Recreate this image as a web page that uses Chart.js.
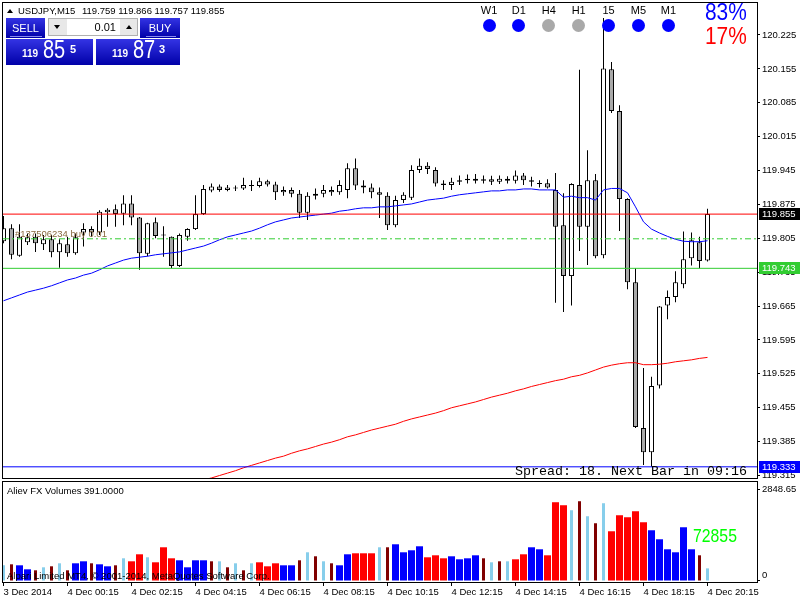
<!DOCTYPE html>
<html><head><meta charset="utf-8">
<script src="https://cdn.jsdelivr.net/npm/chart.js@4.4.0/dist/chart.umd.min.js"></script>
<style>
html,body{margin:0;padding:0;background:#fff;}
#wrap{position:relative;width:800px;height:600px;overflow:hidden;font-family:"Liberation Sans",Arial,sans-serif;}
canvas{position:absolute;left:0;}
#c1{top:0;}
#c2{top:480px;}
.ov{position:absolute;white-space:nowrap;line-height:1;}
.bluebox{position:absolute;background:linear-gradient(#3434e4,#0000a8);}
.tf{position:absolute;font-size:11px;line-height:1;width:30px;text-align:center;color:#000;}
.dot{position:absolute;width:13px;height:13px;border-radius:50%;}
</style></head>
<body><div id="wrap">
<canvas id="c1" width="800" height="480"></canvas>
<canvas id="c2" width="800" height="120"></canvas>

<div class="ov" style="left:7px;top:9px;width:0;height:0;border-left:3px solid transparent;border-right:3px solid transparent;border-bottom:4px solid #000;"></div>
<div class="ov" id="sym" style="left:18px;top:6px;font-size:9.5px;"></div>
<div class="ov" id="ohlc" style="left:82px;top:6px;font-size:9.5px;"></div>

<div class="bluebox" style="left:6px;top:18px;width:39px;height:20px;"></div>
<div class="ov" style="left:6px;top:23px;width:39px;text-align:center;color:#fff;font-size:11px;">SELL</div>
<div class="ov" style="left:10px;top:36px;width:32px;height:1px;background:#8a8af0;"></div>
<div class="ov" style="left:48px;top:18px;width:90px;height:18px;background:#e8e8e8;border:1px solid #b0b0b0;box-sizing:border-box;"></div>
<div class="ov" style="left:67px;top:19px;width:53px;height:16px;background:#fff;"></div>
<div class="ov" style="left:54px;top:25px;width:0;height:0;border-left:3px solid transparent;border-right:3px solid transparent;border-top:4px solid #000;"></div>
<div class="ov" style="left:126px;top:25px;width:0;height:0;border-left:3px solid transparent;border-right:3px solid transparent;border-bottom:4px solid #000;"></div>
<div class="ov" id="lot" style="left:67px;top:22px;width:49px;text-align:right;font-size:11px;color:#000;"></div>
<div class="bluebox" style="left:140px;top:18px;width:40px;height:20px;"></div>
<div class="ov" style="left:140px;top:23px;width:40px;text-align:center;color:#fff;font-size:11px;">BUY</div>
<div class="ov" style="left:146px;top:36px;width:30px;height:1px;background:#8a8af0;"></div>
<div class="bluebox" style="left:6px;top:39px;width:87px;height:26px;"></div>
<div class="bluebox" style="left:96px;top:39px;width:84px;height:26px;"></div>
<div class="ov" id="sb1" style="left:22px;top:48.7px;font-size:10px;font-weight:bold;color:#fff;"></div>
<div class="ov" id="sb2" style="left:43px;top:36.7px;font-size:25px;color:#fff;transform:scaleX(0.8);transform-origin:left;"></div>
<div class="ov" id="sb3" style="left:70px;top:43.6px;font-size:11px;font-weight:bold;color:#fff;"></div>
<div class="ov" id="bb1" style="left:112px;top:48.7px;font-size:10px;font-weight:bold;color:#fff;"></div>
<div class="ov" id="bb2" style="left:133px;top:36.7px;font-size:25px;color:#fff;transform:scaleX(0.8);transform-origin:left;"></div>
<div class="ov" id="bb3" style="left:159px;top:43.6px;font-size:11px;font-weight:bold;color:#fff;"></div>

<div id="signals"></div>
<div class="ov" id="pctUp" style="left:705px;top:-0.4px;font-size:24px;color:#0000ff;transform:scaleX(0.87);transform-origin:left;"></div>
<div class="ov" id="pctDn" style="left:705px;top:23.9px;font-size:24px;color:#ff0000;transform:scaleX(0.87);transform-origin:left;"></div>

<div class="ov" id="orderTxt" style="left:15px;top:228.8px;font-size:9.5px;color:#8a6a40;"></div>
<div class="ov" id="spread" style="left:515px;top:465px;font-size:13.33px;font-family:'Liberation Mono',monospace;color:#000;"></div>
<div class="ov" id="volTitle" style="left:7px;top:485.5px;font-size:9.5px;color:#000;"></div>
<div class="ov" id="copyTxt" style="left:7px;top:570.5px;font-size:9.5px;color:#000;"></div>
<div class="ov" id="volNow" style="left:693px;top:526.9px;font-size:18.6px;color:#00ff00;transform:scaleX(0.85);transform-origin:left;"></div>
</div>
<script>
// ---------- data ----------
const opens  = [119.799,119.826,119.769,119.797,119.808,119.793,119.803,119.776,119.793,119.774,
                119.817,119.824,119.817,119.859,119.865,119.856,119.877,119.848,119.773,119.838,
                119.812,119.808,119.748,119.808,119.824,119.855,119.904,119.912,119.905,119.910,
                119.908,119.915,119.913,119.923,119.916,119.900,119.905,119.897,119.858,119.893,
                119.897,119.905,119.900,119.905,119.950,119.914,119.910,119.900,119.893,119.832,
                119.884,119.889,119.946,119.955,119.946,119.918,119.915,119.922,119.925,119.928,
                119.924,119.927,119.922,119.928,119.924,119.935,119.925,119.918,119.919,119.905,
                119.832,119.727,119.915,119.829,119.925,119.770,120.154,120.068,119.886,119.714,
                119.413,119.363,119.501,119.666,119.684,119.710,119.764,119.797,119.759];
const highs  = [119.851,119.834,119.834,119.815,119.815,119.812,119.812,119.803,119.808,119.815,
                119.836,119.830,119.863,119.867,119.875,119.894,119.894,119.849,119.837,119.848,
                119.830,119.809,119.815,119.826,119.894,119.915,119.918,119.916,119.915,119.914,
                119.930,119.925,119.930,119.926,119.922,119.912,119.910,119.905,119.900,119.908,
                119.915,119.912,119.925,119.960,119.970,119.925,119.918,119.910,119.900,119.893,
                119.900,119.956,119.970,119.962,119.952,119.925,119.930,119.935,119.937,119.938,
                119.935,119.934,119.935,119.933,119.945,119.940,119.932,119.925,119.927,119.940,
                119.898,119.919,120.153,119.987,119.938,120.260,120.169,120.080,119.888,119.743,
                119.537,119.519,119.665,119.697,119.737,119.819,119.817,119.808,119.866];
const lows   = [119.795,119.762,119.767,119.791,119.777,119.781,119.766,119.744,119.767,119.771,
                119.788,119.808,119.812,119.829,119.829,119.832,119.832,119.740,119.768,119.805,
                119.767,119.743,119.746,119.800,119.822,119.853,119.900,119.901,119.902,119.903,
                119.905,119.903,119.910,119.912,119.884,119.893,119.890,119.847,119.843,119.885,
                119.890,119.893,119.895,119.888,119.905,119.898,119.888,119.847,119.822,119.828,
                119.878,119.884,119.940,119.938,119.912,119.905,119.905,119.915,119.918,119.918,
                119.918,119.915,119.917,119.918,119.918,119.915,119.912,119.910,119.908,119.672,
                119.653,119.666,119.779,119.750,119.764,119.764,120.064,119.820,119.700,119.413,
                119.337,119.333,119.495,119.638,119.673,119.702,119.749,119.743,119.757];
const closes = [119.826,119.771,119.808,119.807,119.795,119.803,119.776,119.795,119.774,119.807,
                119.824,119.817,119.860,119.864,119.855,119.877,119.848,119.774,119.836,119.810,
                119.811,119.748,119.812,119.824,119.855,119.907,119.912,119.905,119.910,119.908,
                119.915,119.913,119.923,119.916,119.900,119.905,119.897,119.858,119.893,119.897,
                119.905,119.900,119.915,119.950,119.914,119.910,119.900,119.895,119.832,119.884,
                119.895,119.946,119.955,119.948,119.918,119.915,119.922,119.925,119.928,119.924,
                119.927,119.922,119.928,119.924,119.935,119.925,119.922,119.917,119.910,119.829,
                119.727,119.917,119.829,119.925,119.768,120.156,120.068,119.886,119.714,119.415,
                119.363,119.500,119.664,119.684,119.714,119.762,119.801,119.758,119.855];
const maFast = [119.676,119.682,119.688,119.694,119.698,119.702,119.707,119.713,119.719,119.723,
                119.729,119.733,119.740,119.748,119.754,119.760,119.764,119.766,119.768,119.771,
                119.773,119.775,119.777,119.781,119.785,119.789,119.795,119.802,119.808,119.812,
                119.816,119.820,119.826,119.833,119.839,119.843,119.847,119.849,119.851,119.853,
                119.855,119.857,119.861,119.863,119.866,119.868,119.868,119.870,119.870,119.872,
                119.874,119.876,119.880,119.884,119.886,119.888,119.892,119.895,119.897,119.899,
                119.901,119.903,119.903,119.905,119.905,119.907,119.907,119.905,119.905,119.905,
                119.890,119.892,119.889,119.889,119.884,119.905,119.908,119.908,119.899,119.870,
                119.839,119.824,119.816,119.809,119.803,119.799,119.798,119.798,119.800];
const maSlow = [null,null,null,null,null,null,null,null,null,null,
                null,null,null,null,null,null,null,null,null,null,
                null,null,119.289,119.295,119.300,119.306,119.310,119.315,119.320,119.325,
                119.331,119.336,119.341,119.346,119.351,119.355,119.361,119.366,119.370,119.375,
                119.380,119.384,119.389,119.395,119.399,119.404,119.409,119.413,119.417,119.421,
                119.427,119.432,119.436,119.440,119.444,119.449,119.455,119.459,119.463,119.467,
                119.472,119.477,119.481,119.485,119.490,119.494,119.499,119.503,119.507,119.511,
                119.514,119.519,119.522,119.527,119.533,119.539,119.543,119.546,119.548,119.548,
                119.544,119.544,119.545,119.547,119.550,119.552,119.554,119.557,119.559];
const volumes = [486,517,486,362,331,424,455,548,331,548,
                 610,548,517,455,486,703,610,827,734,579,
                 1044,703,641,424,641,641,610,610,424,548,
                 331,548,579,455,548,486,486,641,889,765,
                 610,548,486,827,858,858,858,1044,1044,1137,
                 889,951,1075,734,796,703,765,672,703,796,
                 703,579,610,610,672,827,1044,982,796,2439,
                 2346,2191,2470,2005,1788,2408,1540,2036,1974,2160,
                 1819,1571,1292,982,889,1664,982,796,391];
const volumeKinds = ['L','D','B','B','D','L','D','L','D','B',
                     'B','D','B','B','D','L','R','R','L','R',
                     'R','R','B','B','B','B','D','L','D','L',
                     'D','L','R','R','R','B','B','D','L','D',
                     'L','D','B','B','R','R','R','L','D','B',
                     'B','B','B','R','R','R','B','B','B','B',
                     'D','L','D','L','R','R','B','B','R','R',
                     'R','L','D','L','D','L','R','R','R','R',
                     'R','B','B','B','B','B','B','D','L'];
const priceTicks = [120.225,120.155,120.085,120.015,119.945,119.875,119.805,119.735,119.665,119.595,119.525,119.455,119.385,119.315];
const volumeTicks = [0, 2848.65];
const tickBars = [0,8,16,24,32,40,48,56,64,72,80,88];
const tickLabels = ['3 Dec 2014','4 Dec 00:15','4 Dec 02:15','4 Dec 04:15','4 Dec 06:15','4 Dec 08:15','4 Dec 10:15','4 Dec 12:15','4 Dec 14:15','4 Dec 16:15','4 Dec 18:15','4 Dec 20:15'];
const bidLevel = 119.855, supportLevel = 119.743, orderLevel = 119.804, dayLowLevel = 119.333;
const tagLevels = [bidLevel, supportLevel, dayLowLevel];
const timeframes = ['W1','D1','H4','H1','15','M5','M1'];
const tfSignals  = ['up','up','flat','flat','up','up','up'];
const pctUp = 83, pctDown = 17;
const lastVolume = 391, volumeSum = 72855;
const symbolName = 'USDJPY,M15';
const quote = {open:119.759, high:119.866, low:119.757, close:119.855};
const bid = '119855', ask = '119873';
const lotSize = '0.01';
const spreadPts = 18, nextBar = '09:16';
const orderTicket = '#137506234 buy 0.01';

// ---------- overlays ----------
document.getElementById('sym').textContent = symbolName;
document.getElementById('ohlc').textContent = [quote.open,quote.high,quote.low,quote.close].map(v=>v.toFixed(3)).join(' ');
document.getElementById('lot').textContent = lotSize;
document.getElementById('sb1').textContent = bid.slice(0,3);
document.getElementById('sb2').textContent = bid.slice(3,5);
document.getElementById('sb3').textContent = bid.slice(5);
document.getElementById('bb1').textContent = ask.slice(0,3);
document.getElementById('bb2').textContent = ask.slice(3,5);
document.getElementById('bb3').textContent = ask.slice(5);
document.getElementById('pctUp').textContent = pctUp + '%';
document.getElementById('pctDn').textContent = pctDown + '%';
document.getElementById('orderTxt').textContent = orderTicket;
document.getElementById('spread').textContent = 'Spread: ' + spreadPts + '. Next Bar in ' + nextBar;
document.getElementById('volTitle').textContent = 'Aliev FX Volumes ' + lastVolume.toFixed(4);
document.getElementById('copyTxt').textContent = 'Alpari Limited MT4, \u00a9 2001-2014, MetaQuotes Software Corp.';
document.getElementById('volNow').textContent = String(volumeSum);
const sig = document.getElementById('signals');
timeframes.forEach((tf, i) => {
  const cx = 489 + i * 29.9;
  const l = document.createElement('div'); l.className = 'tf'; l.style.left = (cx - 15) + 'px'; l.style.top = '5.3px'; l.textContent = tf; sig.appendChild(l);
  const d = document.createElement('div'); d.className = 'dot'; d.style.left = (cx - 6.5) + 'px'; d.style.top = '18.5px';
  d.style.background = tfSignals[i] === 'up' ? '#0000ff' : '#a9a9a9'; sig.appendChild(d);
});

// ---------- charts ----------
const xMin = -0.0625, xMax = 94.1875;
const idx = closes.map((_, i) => i);
const wicks = idx.map(i => ({x: i, y: [lows[i], highs[i]]}));
const upBodies = idx.filter(i => closes[i] >= opens[i]).map(i => ({x: i, y: [opens[i], closes[i]]}));
const dnBodies = idx.filter(i => closes[i] < opens[i]).map(i => ({x: i, y: [opens[i], closes[i]]}));
const fastPts = idx.map(i => ({x: i, y: maFast[i]}));
const slowPts = idx.filter(i => maSlow[i] !== null).map(i => ({x: i, y: maSlow[i]}));
const hline = v => [{x: xMin, y: v}, {x: xMax, y: v}];
const tickFont = {family: 'Liberation Sans', size: 9.5};

const framePlugin = (rect) => ({
  id: 'frame',
  afterDraw(chart) {
    const ctx = chart.ctx; ctx.save(); ctx.strokeStyle = '#000'; ctx.lineWidth = 1;
    ctx.strokeRect(rect[0], rect[1], rect[2], rect[3]); ctx.restore();
  }
});
const tagColors = ['#000000', '#32cd32', '#0000ff'];
const tagPlugin = {
  id: 'tags',
  afterDraw(chart) {
    const ctx = chart.ctx, ys = chart.scales.y; ctx.save();
    tagLevels.forEach((v, i) => {
      const py = Math.round(ys.getPixelForValue(v));
      ctx.fillStyle = tagColors[i]; ctx.fillRect(759, py - 6, 41, 12);
      ctx.fillStyle = '#fff'; ctx.font = '9.5px "Liberation Sans"'; ctx.textBaseline = 'middle';
      ctx.fillText(v.toFixed(3), 762, py + 0.5);
    });
    ctx.restore();
  }
};

new Chart(document.getElementById('c1'), {
  type: 'bar',
  data: { datasets: [
    {type: 'line', data: hline(bidLevel), borderColor: '#ff0000', borderWidth: 1, pointRadius: 0, order: 0},
    {type: 'line', data: hline(supportLevel), borderColor: '#32cd32', borderWidth: 1, pointRadius: 0, order: 0},
    {type: 'line', data: hline(orderLevel), borderColor: '#32cd32', borderWidth: 1, borderDash: [6,3,2,3], pointRadius: 0, order: 0},
    {type: 'line', data: hline(dayLowLevel), borderColor: '#0000ff', borderWidth: 1, pointRadius: 0, order: 0},
    {type: 'line', data: fastPts, borderColor: '#0000ff', borderWidth: 1, pointRadius: 0, tension: 0, order: 1},
    {type: 'line', data: slowPts, borderColor: '#ff0000', borderWidth: 1, pointRadius: 0, tension: 0, order: 1},
    {data: upBodies, backgroundColor: '#ffffff', borderColor: '#000', borderWidth: 1, borderSkipped: false, barThickness: 5, grouped: false, minBarLength: 1, inflateAmount: 0, order: 2},
    {data: dnBodies, backgroundColor: '#a9a9a9', borderColor: '#000', borderWidth: 1, borderSkipped: false, barThickness: 5, grouped: false, minBarLength: 1, inflateAmount: 0, order: 2},
    {data: wicks, backgroundColor: '#000', borderWidth: 0, barThickness: 1, grouped: false, inflateAmount: 0, order: 3}
  ]},
  options: {
    responsive: false, animation: false, devicePixelRatio: 1, events: [],
    layout: {padding: {left: 3, top: 3, right: 0, bottom: 2}},
    plugins: {legend: {display: false}, tooltip: {enabled: false}},
    scales: {
      x: {type: 'linear', min: xMin, max: xMax, display: false, offset: false},
      y: {position: 'right', min: 119.3099, max: 120.2911,
          afterBuildTicks: s => { s.ticks = priceTicks.map(v => ({value: v})); },
          afterFit: s => { s.width = 43; s.paddingTop = 0; s.paddingBottom = 0; },
          ticks: {callback: v => Number(v).toFixed(3), font: tickFont, color: '#000', padding: 2, autoSkip: false},
          grid: {drawOnChartArea: false, drawTicks: true, tickLength: 3, color: '#000'},
          border: {display: false}}
    }
  },
  plugins: [framePlugin([2.5, 2.5, 755, 476]), tagPlugin]
});

const kindStyle = {R: ['#ff0000', 7], B: ['#0000ff', 7], D: ['#800000', 3], L: ['#87ceeb', 3]};
const volSets = Object.keys(kindStyle).map(k => ({
  data: idx.filter(i => volumeKinds[i] === k).map(i => ({x: i, y: volumes[i]})),
  backgroundColor: kindStyle[k][0], borderWidth: 0, barThickness: kindStyle[k][1], grouped: false, inflateAmount: 0
}));

new Chart(document.getElementById('c2'), {
  type: 'bar',
  data: {datasets: volSets},
  options: {
    responsive: false, animation: false, devicePixelRatio: 1, events: [],
    layout: {padding: {left: 3, top: 2, right: 0, bottom: 0}},
    plugins: {legend: {display: false}, tooltip: {enabled: false}},
    scales: {
      x: {type: 'linear', min: xMin, max: xMax, offset: false,
          afterBuildTicks: s => { s.ticks = tickBars.map(v => ({value: v})); },
          afterFit: s => { s.height = 18; s.paddingLeft = 0; s.paddingRight = 0; },
          ticks: {callback: v => tickLabels[tickBars.indexOf(v)], align: 'start', maxRotation: 0, autoSkip: false, font: tickFont, color: '#000', padding: 1},
          grid: {drawOnChartArea: false, drawTicks: true, tickLength: 4, color: '#000', offset: false},
          border: {display: false}},
      y: {position: 'right', min: -31, max: 3065.4,
          afterBuildTicks: s => { s.ticks = volumeTicks.map(v => ({value: v})); },
          afterFit: s => { s.width = 43; s.paddingTop = 0; s.paddingBottom = 0; },
          ticks: {callback: v => v === 0 ? ['0', ''] : Number(v).toFixed(2), font: tickFont, color: '#000', padding: 2, autoSkip: false},
          grid: {drawOnChartArea: false, drawTicks: true, tickLength: 3, color: '#000'},
          border: {display: false}}
    }
  },
  plugins: [framePlugin([2.5, 1.5, 755, 101])]
});
</script>
</body></html>
